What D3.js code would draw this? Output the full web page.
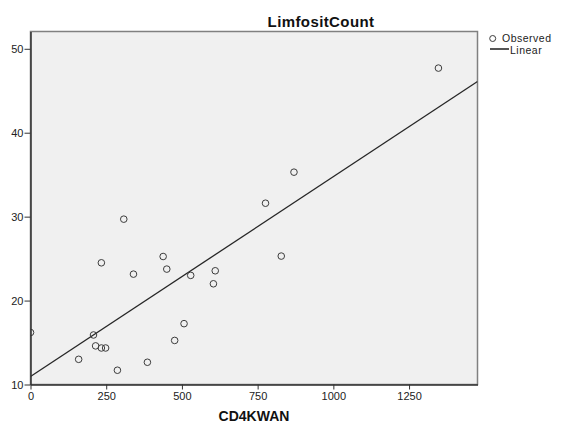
<!DOCTYPE html>
<html>
<head>
<meta charset="utf-8">
<script src="https://cdn.jsdelivr.net/npm/d3@7"></script>
<style>
  body { margin: 0; background: #fff; }
  svg { font-family: "Liberation Sans", Arial, sans-serif; }
</style>
</head>
<body>
<svg id="chart" width="562" height="423"></svg>
<script>
var cd4kwan = [0, 159, 208, 215, 234, 248, 234, 287, 308, 340, 386, 438, 450, 476, 507, 529, 604, 610, 776, 828, 870, 1347];
var limfosit = [16.2, 13.0, 15.9, 14.6, 14.35, 14.35, 24.5, 11.7, 29.7, 23.15, 12.65, 25.25, 23.75, 15.25, 17.25, 23.0, 22.0, 23.55, 31.6, 25.3, 35.3, 47.7];

// fitted linear model (as drawn in the picture)
var linIntercept = 10.95;
var linSlope = 0.02381;

var xTicks = [0, 250, 500, 750, 1000, 1250];
var yTicks = [10, 20, 30, 40, 50];

var svg = d3.select('#chart');

var xScale = d3.scaleLinear()
	.domain([0, 1476])
	.range([30.5, 477.5]);

var yScale = d3.scaleLinear()
	.domain([10, 52.06])
	.range([384.5, 31.5]);

// plot background
svg.append('rect')
	.attr('x', 30.5)
	.attr('y', 31.5)
	.attr('width', 447)
	.attr('height', 353)
	.attr('fill', '#f0f0f0')
	.attr('stroke', '#808080')
	.attr('stroke-width', 1.5);

svg.append('clipPath')
	.attr('id', 'plotclip')
	.append('rect')
	.attr('x', 30.5)
	.attr('y', 31.5)
	.attr('width', 447)
	.attr('height', 353);

var plot = svg.append('g').attr('clip-path', 'url(#plotclip)');

// regression line
var lineGen = d3.line()
	.x(function(d){ return xScale(d); })
	.y(function(d){ return yScale(linIntercept + linSlope * d); });

plot.append('path')
	.datum(xScale.domain())
	.attr('fill', 'none')
	.attr('stroke', '#262626')
	.attr('stroke-width', 1.3)
	.attr('d', lineGen);

// observed points
plot.selectAll('circle')
	.data(cd4kwan)
	.enter()
	.append('circle')
	.attr('cx', function(d){ return xScale(d); })
	.attr('cy', function(d, i){ return yScale(limfosit[i]); })
	.attr('r', 3.3)
	.attr('fill', 'none')
	.attr('stroke', '#3c3c3c')
	.attr('stroke-width', 1);

// axes
var xAxisGen = d3.axisBottom(xScale).tickValues(xTicks).tickFormat(d3.format('d'))
	.tickSize(5).tickSizeOuter(0).tickPadding(3);
var yAxisGen = d3.axisLeft(yScale).tickValues(yTicks).tickFormat(d3.format('d'))
	.tickSize(6).tickSizeOuter(0).tickPadding(1);

var xAxis = svg.append('g')
	.attr('transform', 'translate(0,384.5)')
	.call(xAxisGen);

var yAxis = svg.append('g')
	.attr('transform', 'translate(30.5,0)')
	.call(yAxisGen);

[xAxis, yAxis].forEach(function(ax){
	ax.select('.domain').attr('stroke', '#333').attr('stroke-width', 1.5);
	ax.selectAll('.tick line').attr('stroke', '#333');
	ax.selectAll('.tick text')
		.attr('fill', '#222')
		.style('font-family', '"Liberation Sans", Arial, sans-serif')
		.style('font-size', '11px');
});

// titles
svg.append('text')
	.attr('x', 321)
	.attr('y', 27)
	.attr('text-anchor', 'middle')
	.style('font-size', '15px')
	.style('letter-spacing', '0.4px')
	.style('font-weight', 'bold')
	.attr('fill', '#111')
	.text('LimfositCount');

svg.append('text')
	.attr('x', 254)
	.attr('y', 421)
	.attr('text-anchor', 'middle')
	.style('font-size', '14px')
	.style('font-weight', 'bold')
	.attr('fill', '#111')
	.text('CD4KWAN');

// legend
var legend = svg.append('g')
	.style('font-size', '10.5px')
	.style('letter-spacing', '0.5px');

legend.append('circle')
	.attr('cx', 492.7)
	.attr('cy', 38.5)
	.attr('r', 3)
	.attr('fill', 'none')
	.attr('stroke', '#3c3c3c');

legend.append('text')
	.attr('x', 502)
	.attr('y', 41.5)
	.attr('fill', '#222')
	.text('Observed');

legend.append('line')
	.attr('x1', 490)
	.attr('x2', 509)
	.attr('y1', 49)
	.attr('y2', 49)
	.attr('stroke', '#555')
	.attr('stroke-width', 2);

legend.append('text')
	.attr('x', 510)
	.attr('y', 53.5)
	.attr('fill', '#222')
	.text('Linear');
</script>
</body>
</html>
